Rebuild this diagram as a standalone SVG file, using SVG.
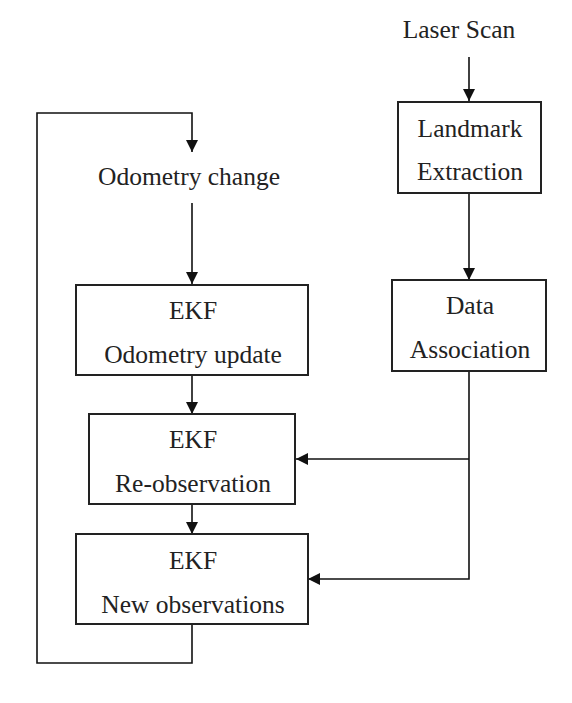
<svg xmlns="http://www.w3.org/2000/svg" width="572" height="703" viewBox="0 0 572 703">
<style>
.box{fill:#fff;stroke:#222;stroke-width:2}
.t{font-family:"Liberation Serif","Times New Roman",serif;font-size:25.5px;fill:#222;text-anchor:middle}
.c{fill:none;stroke:#111;stroke-width:1.6}
</style>
<defs>
<marker id="ah" markerUnits="userSpaceOnUse" markerWidth="12" markerHeight="12" viewBox="0 0 12 12" refX="12" refY="6" orient="auto">
<path d="M0,0 L12,6 L0,12 Z" fill="#111"/>
</marker>
</defs>
<rect width="572" height="703" fill="#fff"/>
<g id="connectors">
<line class="c" x1="469" y1="57" x2="469" y2="101" marker-end="url(#ah)"/>
<line class="c" x1="469" y1="193" x2="469" y2="280" marker-end="url(#ah)"/>
<polyline class="c" points="469,371 469,579 308,579" marker-end="url(#ah)"/>
<polyline class="c" points="469,459 296,459" marker-end="url(#ah)"/>
<line class="c" x1="192" y1="203" x2="192" y2="284" marker-end="url(#ah)"/>
<line class="c" x1="192" y1="375" x2="192" y2="414" marker-end="url(#ah)"/>
<line class="c" x1="192" y1="504" x2="192" y2="534" marker-end="url(#ah)"/>
<polyline class="c" points="192,624 192,663 37,663 37,113 192,113 192,152" marker-end="url(#ah)"/>
</g>
<g id="laser-scan">
<text class="t" x="459" y="38">Laser Scan</text>
</g>
<g id="landmark-extraction">
<rect class="box" x="398" y="102" width="143" height="91"/>
<text class="t" x="470" y="137">Landmark</text>
<text class="t" x="470" y="180">Extraction</text>
</g>
<g id="data-association">
<rect class="box" x="392" y="280" width="154" height="91"/>
<text class="t" x="470" y="314">Data</text>
<text class="t" x="470" y="358">Association</text>
</g>
<g id="odometry-change">
<text class="t" x="189" y="185">Odometry change</text>
</g>
<g id="ekf-odometry-update">
<rect class="box" x="76" y="285" width="232" height="90"/>
<text class="t" x="193" y="319">EKF</text>
<text class="t" x="193" y="363">Odometry update</text>
</g>
<g id="ekf-re-observation">
<rect class="box" x="89" y="414" width="206" height="90"/>
<text class="t" x="193" y="448">EKF</text>
<text class="t" x="193" y="492">Re-observation</text>
</g>
<g id="ekf-new-observations">
<rect class="box" x="76" y="534" width="232" height="90"/>
<text class="t" x="193" y="569">EKF</text>
<text class="t" x="193" y="613">New observations</text>
</g>
</svg>
